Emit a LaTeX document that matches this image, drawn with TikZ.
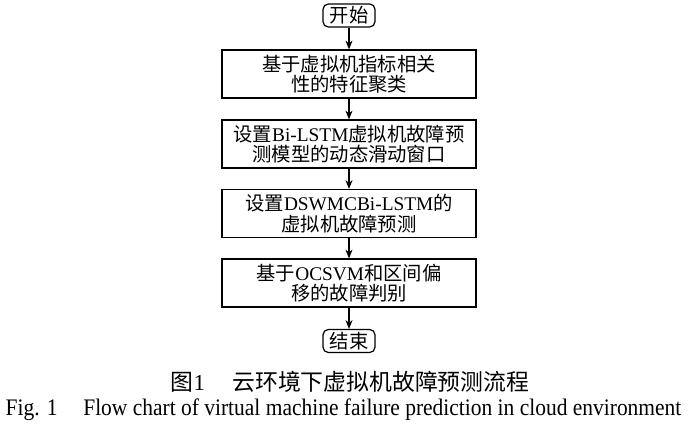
\documentclass[tikz,border=0pt]{standalone}
\usepackage{fontspec}
\setmainfont{Liberation Serif}
\newfontfamily\cjk{Noto Sans CJK SC}
\newcommand{\zh}[1]{{\cjk #1}}
\usepackage{tikz}
\usetikzlibrary{arrows.meta, positioning}

\tikzset{
  procbox/.style={draw, line width=0.7pt, minimum width=5.08cm, minimum height=0.96cm,
    align=center, inner sep=0pt, font=\fontsize{11}{11.6}\selectfont},
  termbox/.style={draw, line width=0.7pt, rounded corners=3pt, minimum width=1.04cm,
    minimum height=0.46cm, inner sep=0pt, font=\fontsize{11}{11.6}\selectfont},
  flow/.style={-{Stealth[length=5pt, width=4pt]}, line width=0.6pt}
}

\begin{document}
\begin{tikzpicture}[>=Stealth]
  \useasboundingbox (0,0) rectangle (14,8.66);

  % Ablauf
  \node[termbox] (start) at (6.98,8.35) {\zh{开始}};
  \node[procbox] (clust) at (6.98,7.18) {\zh{基于虚拟机指标相关}\\\zh{性的特征聚类}};
  \node[procbox] (window) at (6.98,5.78) {\zh{设置}Bi-LSTM\zh{虚拟机故障预}\\\zh{测模型的动态滑动窗口}};
  \node[procbox] (predict) at (6.98,4.39) {\zh{设置}DSWMCBi-LSTM\zh{的}\\\zh{虚拟机故障预测}};
  \node[procbox] (judge) at (6.98,3.00) {\zh{基于}OCSVM\zh{和区间偏}\\\zh{移的故障判别}};
  \node[termbox] (stop) at (6.98,1.84) {\zh{结束}};

  \draw[flow] (start) -- (clust);
  \draw[flow] (clust) -- (window);
  \draw[flow] (window) -- (predict);
  \draw[flow] (predict) -- (judge);
  \draw[flow] (judge) -- (stop);

  % Bildunterschrift
  \node[font=\fontsize{13}{14}\selectfont] (capzh) at (7.0,1.02) {\zh{图}1\hspace{1.2em}\zh{云环境下虚拟机故障预测流程}};
  \node[font=\fontsize{13.5}{14}\selectfont] (capen) at (6.87,0.46)
    {\scalebox{0.905}[1]{Fig. 1\hspace{1.2em}Flow chart of virtual machine failure prediction in cloud environment}};
\end{tikzpicture}
\end{document}
